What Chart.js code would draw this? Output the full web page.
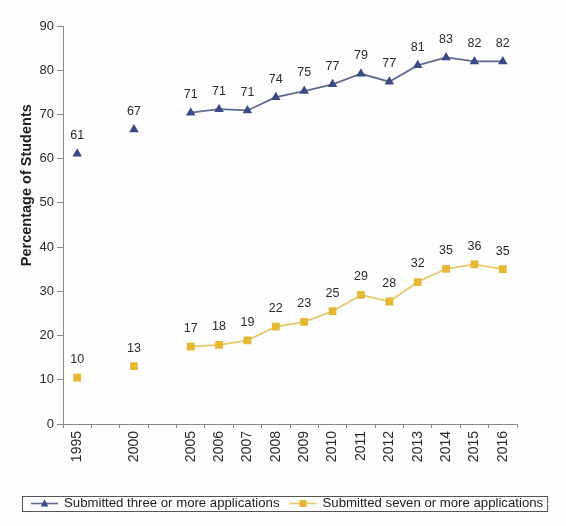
<!DOCTYPE html>
<html>
<head>
<meta charset="utf-8">
<script src="https://cdn.jsdelivr.net/npm/chart.js@4.4.1/dist/chart.umd.min.js"></script>
<style>
  html, body { margin: 0; padding: 0; background: #fdfdfd; }
  #box { width: 566px; height: 526px; }
</style>
</head>
<body>
<div id="box"><canvas id="mycanvas"></canvas></div>
<script>
// data (blank categories keep the gaps between 1995, 2000 and 2005)
var years = ['1995', '', '2000', '', '2005', '2006', '2007', '2008', '2009', '2010', '2011', '2012', '2013', '2014', '2015', '2016'];
var threeOrMore = [61.1, null, 66.6, null, 70.4, 71.2, 70.9, 73.9, 75.3, 76.8, 79.2, 77.4, 81.1, 82.9, 82.0, 82.0];
var threeLabels = ['61', '', '67', '', '71', '71', '71', '74', '75', '77', '79', '77', '81', '83', '82', '82'];
var sevenOrMore = [10.5, null, 13.1, null, 17.5, 17.9, 18.9, 22.0, 23.1, 25.5, 29.2, 27.7, 32.1, 35.1, 36.1, 35.0];
var sevenLabels = ['10', '', '13', '', '17', '18', '19', '22', '23', '25', '29', '28', '32', '35', '36', '35'];
var yTicks = [0, 10, 20, 30, 40, 50, 60, 70, 80, 90];

var seriesNames = ['Submitted three or more applications', 'Submitted seven or more applications'];
var pointLabels = [threeLabels, sevenLabels];

var FONT = '"Liberation Sans", Arial, sans-serif';
Chart.defaults.font.family = FONT;
Chart.defaults.font.size = 12;
Chart.defaults.color = '#333';

// data labels above each point
var labelPlugin = {
  id: 'pointlabels',
  afterDatasetsDraw: function (chart) {
    var ctx = chart.ctx;
    ctx.save();
    ctx.font = '12.5px ' + FONT;
    ctx.fillStyle = '#2b2b2b';
    ctx.textAlign = 'center';
    ctx.textBaseline = 'middle';
    chart.data.datasets.forEach(function (ds, d) {
      var meta = chart.getDatasetMeta(d);
      meta.data.forEach(function (pt, i) {
        if (ds.data[i] === null) return;
        ctx.fillText(pointLabels[d][i], pt.x, pt.y - 18);
      });
    });
    ctx.restore();
  }
};

// y title and boxed legend, drawn like the spreadsheet original
var extrasPlugin = {
  id: 'extras',
  afterDraw: function (chart) {
    var ctx = chart.ctx;
    var area = chart.chartArea;
    ctx.save();
    ctx.font = 'bold 14.5px ' + FONT;
    ctx.fillStyle = '#1e1e1e';
    ctx.textAlign = 'center';
    ctx.textBaseline = 'middle';
    ctx.translate(27, area.top + (area.bottom - area.top) * 0.4);
    ctx.rotate(-Math.PI / 2);
    ctx.fillText('Percentage of Students', 0, 0);
    ctx.restore();

    ctx.save();
    ctx.font = '13.2px ' + FONT;
    ctx.textBaseline = 'middle';
    ctx.textAlign = 'left';
    var top = 496, bottom = 511, mid = 503.5;
    var x = 31;
    var left = 22;
    chart.data.datasets.forEach(function (ds, d) {
      ctx.strokeStyle = ds.borderColor;
      ctx.lineWidth = 1.6;
      ctx.beginPath();
      ctx.moveTo(x, mid);
      ctx.lineTo(x + 27, mid);
      ctx.stroke();
      ctx.fillStyle = ds.pointBackgroundColor;
      if (d === 0) {
        ctx.beginPath();
        ctx.moveTo(x + 13.5, mid - 4);
        ctx.lineTo(x + 17.5, mid + 3);
        ctx.lineTo(x + 9.5, mid + 3);
        ctx.closePath();
        ctx.fill();
      } else {
        ctx.fillRect(x + 10, mid - 3.5, 7, 7);
      }
      ctx.fillStyle = '#222';
      ctx.fillText(seriesNames[d], x + 33, mid);
      x = x + 33 + ctx.measureText(seriesNames[d]).width + 10;
    });
    ctx.strokeStyle = '#555';
    ctx.lineWidth = 1;
    ctx.strokeRect(left + 0.5, top + 0.5, x - 6 - left, bottom - top);
    ctx.restore();
  }
};

var ctx = document.getElementById('mycanvas');

var lineGraph = new Chart(ctx, {
  type: 'line',
  data: {
    labels: years,
    datasets: [
      {
        label: seriesNames[0],
        data: threeOrMore,
        borderColor: '#616c8d',
        borderWidth: 1.8,
        pointStyle: 'triangle',
        pointRadius: 5.5,
        pointBorderWidth: 0,
        pointBackgroundColor: '#3a4a85',
        pointBorderColor: '#3a4a85',
        spanGaps: false,
        tension: 0
      },
      {
        label: seriesNames[1],
        data: sevenOrMore,
        borderColor: '#e6c866',
        borderWidth: 1.8,
        pointStyle: 'rect',
        pointRadius: 5.5,
        pointBorderWidth: 0,
        pointBackgroundColor: '#e5b733',
        pointBorderColor: '#e5b733',
        spanGaps: false,
        tension: 0
      }
    ]
  },
  options: {
    responsive: true,
    maintainAspectRatio: false,
    animation: false,
    layout: {
      padding: { top: 26, right: 49, bottom: 42, left: 0 }
    },
    plugins: {
      legend: { display: false },
      tooltip: { enabled: false }
    },
    scales: {
      x: {
        offset: true,
        grid: {
          offset: true,
          drawOnChartArea: false,
          drawTicks: true,
          tickLength: 4,
          color: '#888'
        },
        border: { display: true, color: '#888', width: 1 },
        ticks: {
          autoSkip: false,
          maxRotation: 90,
          minRotation: 90,
          padding: 3,
          color: '#2b2b2b',
          font: { size: 14 }
        },
        afterFit: function (scale) { scale.height = 60; }
      },
      y: {
        min: 0,
        max: 90,
        afterBuildTicks: function (scale) {
          scale.ticks = yTicks.map(function (v) { return { value: v }; });
        },
        grid: {
          drawOnChartArea: false,
          drawTicks: true,
          tickLength: 6,
          color: '#888'
        },
        border: { display: true, color: '#888', width: 1 },
        ticks: {
          padding: 3,
          color: '#2b2b2b',
          font: { size: 13 }
        },
        afterFit: function (scale) { scale.width = 63; }
      }
    }
  },
  plugins: [labelPlugin, extrasPlugin]
});
</script>
</body>
</html>
